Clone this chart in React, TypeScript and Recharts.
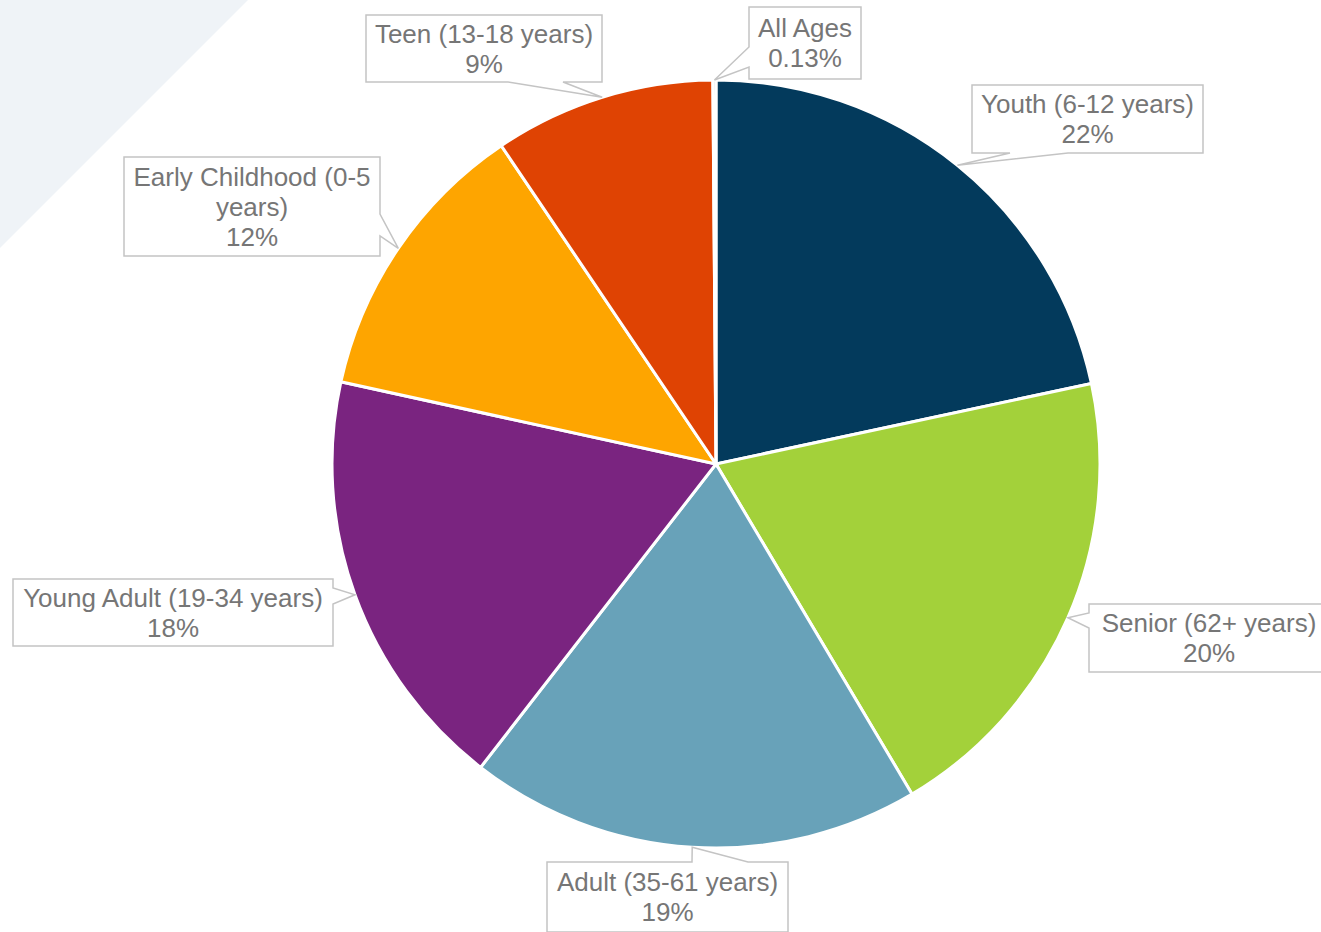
import React from "react";
import { PieChart, Pie, Cell } from "recharts";

const categories = [
  "Youth (6-12 years)",
  "Senior (62+ years)",
  "Adult (35-61 years)",
  "Young Adult (19-34 years)",
  "Early Childhood (0-5 years)",
  "Teen (13-18 years)",
  "All Ages",
];

const shares = [21.6, 19.8, 19.0, 17.9, 12.1, 9.3, 0.13];

const sliceColors = ["#033a5c", "#a3d13a", "#68a2b9", "#7a2480", "#fea500", "#df4303", "#9aa7b0"];

const data = categories.map((name, i) => ({ name, value: shares[i], color: sliceColors[i] }));

const TEXT = "#767676";
const BORDER = "#c4c4c4";
const FONT = "Liberation Sans, Arial, sans-serif";

type Side = "top" | "right" | "bottom" | "left";

// callout box placement, done by hand like the original
const calloutLayout: Record<string, { x: number; y: number; w: number; h: number; side: Side; a: number; b: number; lines?: string[] }> = {
  "Youth (6-12 years)": { x: 972, y: 85, w: 231, h: 68, side: "bottom", a: 1010, b: 1068 },
  "Senior (62+ years)": { x: 1089, y: 604, w: 240, h: 68, side: "left", a: 613, b: 628 },
  "Adult (35-61 years)": { x: 547, y: 862, w: 241, h: 70, side: "top", a: 692, b: 748 },
  "Young Adult (19-34 years)": { x: 13, y: 579, w: 320, h: 67, side: "right", a: 588, b: 604 },
  "Early Childhood (0-5 years)": {
    x: 124, y: 157, w: 256, h: 99, side: "right", a: 214, b: 236,
    lines: ["Early Childhood (0-5", "years)"],
  },
  "Teen (13-18 years)": { x: 366, y: 15, w: 236, h: 67, side: "bottom", a: 508, b: 563 },
  "All Ages": { x: 749, y: 7, w: 112, h: 72, side: "left", a: 47, b: 67 },
};

function calloutPath(x: number, y: number, w: number, h: number, side: Side, a: number, b: number, tx: number, ty: number) {
  const r = x + w;
  const btm = y + h;
  switch (side) {
    case "top":
      return `M${x},${y} L${a},${y} L${tx},${ty} L${b},${y} L${r},${y} L${r},${btm} L${x},${btm} Z`;
    case "right":
      return `M${x},${y} L${r},${y} L${r},${a} L${tx},${ty} L${r},${b} L${r},${btm} L${x},${btm} Z`;
    case "bottom":
      return `M${x},${y} L${r},${y} L${r},${btm} L${b},${btm} L${tx},${ty} L${a},${btm} L${x},${btm} Z`;
    default:
      return `M${x},${y} L${r},${y} L${r},${btm} L${x},${btm} L${x},${b} L${tx},${ty} L${x},${a} Z`;
  }
}

function fmtPct(p: number) {
  const v = p * 100;
  return v >= 1 ? `${Math.round(v)}%` : `${v.toFixed(2)}%`;
}

const RAD = Math.PI / 180;

function renderCallout(props: any) {
  const { cx, cy, midAngle, outerRadius, percent, name } = props;
  const lay = calloutLayout[name];
  if (!lay) return null;
  const tx = cx + outerRadius * Math.cos(-midAngle * RAD);
  const ty = cy + outerRadius * Math.sin(-midAngle * RAD);
  const lines = [...(lay.lines ?? [name]), fmtPct(percent)];
  const lh = 30;
  const fs = 26;
  const first = lay.y + lay.h / 2 - ((lines.length - 1) * lh) / 2 + fs * 0.35;
  return (
    <g key={name}>
      <path
        d={calloutPath(lay.x, lay.y, lay.w, lay.h, lay.side, lay.a, lay.b, tx, ty)}
        fill="#ffffff"
        stroke={BORDER}
        strokeWidth={1.5}
      />
      <text x={lay.x + lay.w / 2} textAnchor="middle" fontFamily={FONT} fontSize={fs} fill={TEXT}>
        {lines.map((t, i) => (
          <tspan key={i} x={lay.x + lay.w / 2} y={first + i * lh}>
            {t}
          </tspan>
        ))}
      </text>
    </g>
  );
}

export default function App() {
  return (
    <div style={{ position: "absolute", left: 0, top: 0, width: 1321, height: 932, background: "#ffffff", overflow: "hidden" }}>
      <div
        style={{
          position: "absolute",
          left: 0,
          top: 0,
          width: 248,
          height: 248,
          background: "#eff3f7",
          clipPath: "polygon(0 0, 100% 0, 0 100%)",
        }}
      />
      <div style={{ position: "absolute", left: 0, top: 0 }}>
        <PieChart width={1321} height={932} margin={{ top: 0, right: 0, bottom: 0, left: 0 }}>
          <Pie
            data={data}
            dataKey="value"
            nameKey="name"
            cx={716}
            cy={464}
            outerRadius={384}
            startAngle={90}
            endAngle={-270}
            stroke="#ffffff"
            strokeWidth={3}
            label={renderCallout}
            labelLine={false}
            isAnimationActive={false}
          >
            {data.map((d) => (
              <Cell key={d.name} fill={d.color} />
            ))}
          </Pie>
        </PieChart>
      </div>
    </div>
  );
}
